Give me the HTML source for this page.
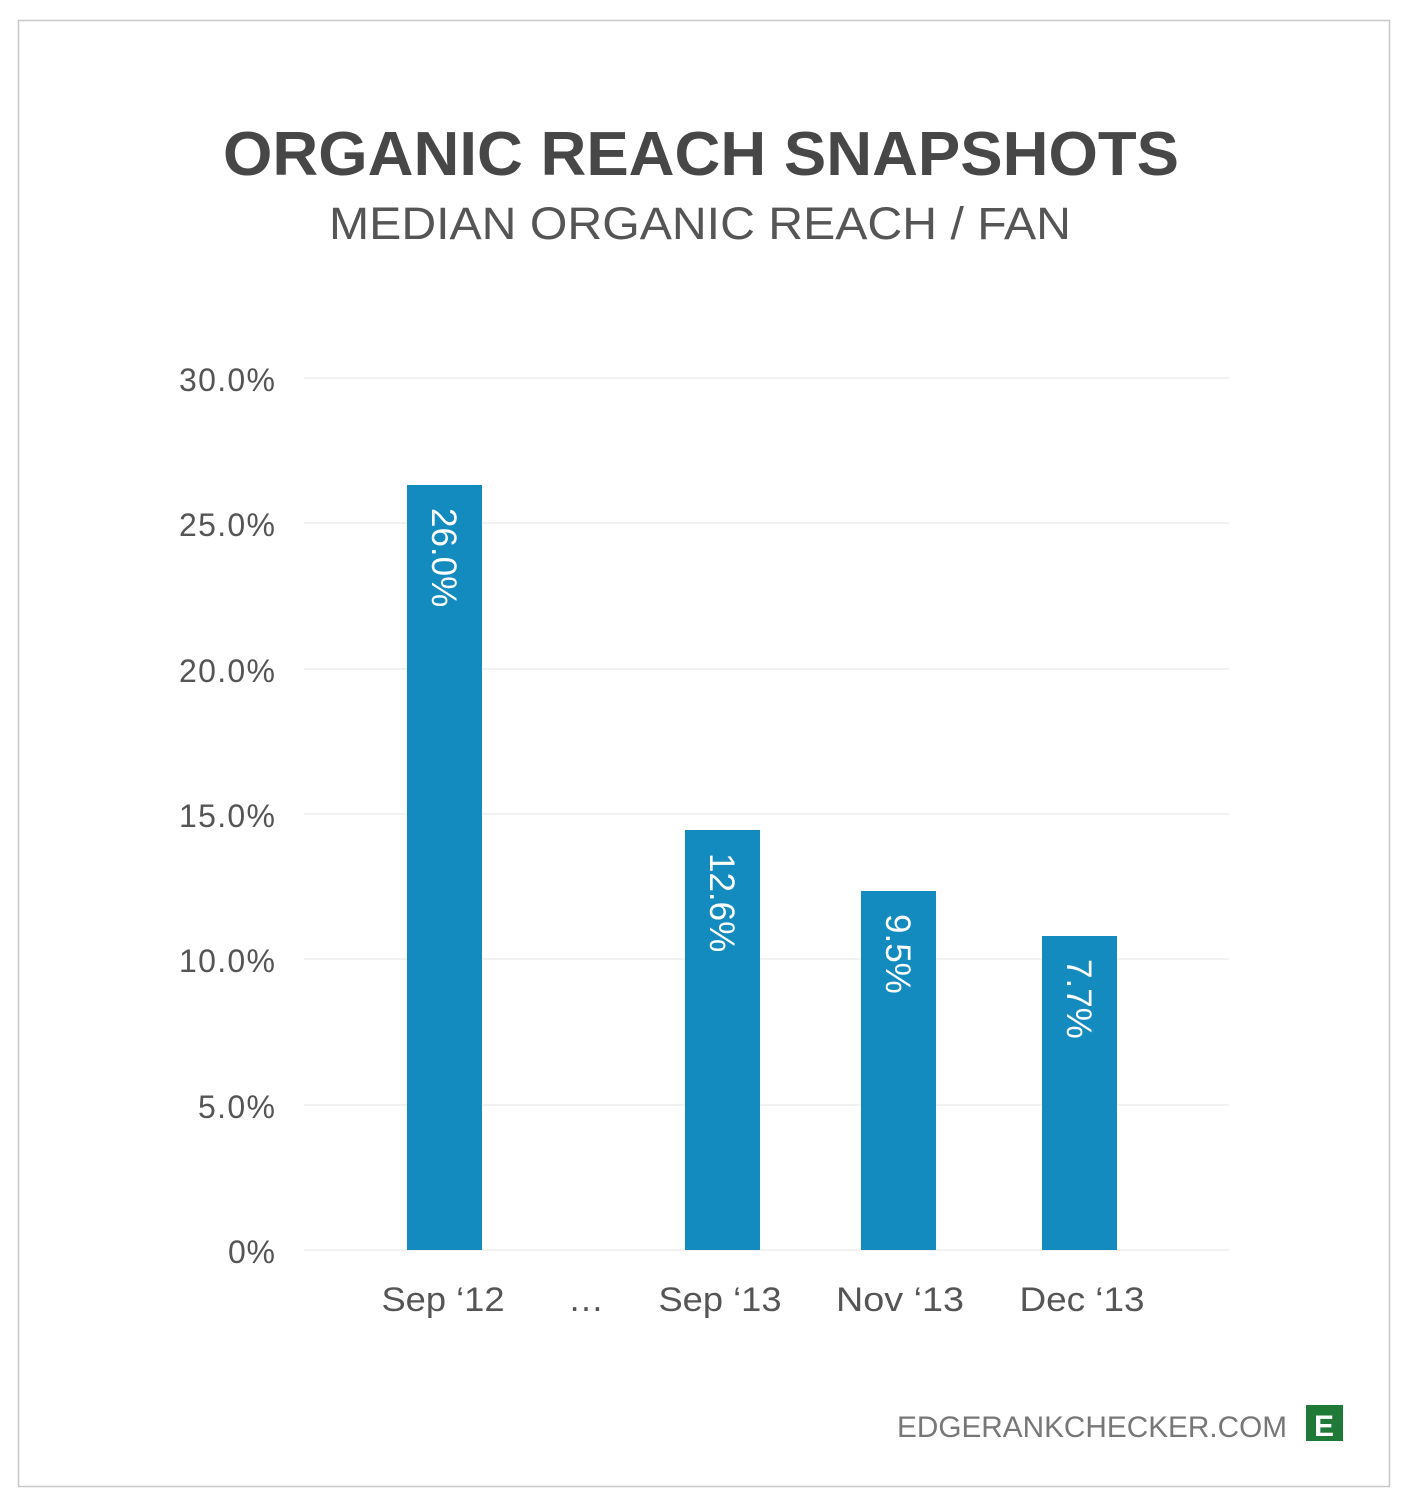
<!DOCTYPE html>
<html><head><style>body{margin:0;background:#fff}</style></head><body>
<svg width="1407" height="1507" xmlns="http://www.w3.org/2000/svg" font-family="Liberation Sans, sans-serif">
<rect x="0" y="0" width="1407" height="1507" fill="#fff"/>
<rect x="18.5" y="20.5" width="1371" height="1466" fill="none" stroke="#c8c8c8" stroke-width="1.5"/>
<text x="701" y="175" text-anchor="middle" font-size="62" font-weight="bold" fill="#474747" textLength="956" lengthAdjust="spacingAndGlyphs">ORGANIC REACH SNAPSHOTS</text>
<text x="700" y="239" text-anchor="middle" font-size="45" fill="#555" textLength="742" lengthAdjust="spacingAndGlyphs">MEDIAN ORGANIC REACH / FAN</text>
<g stroke="#e6e6e6" stroke-width="1">
<line x1="304" x2="1229" y1="378" y2="378"/><line x1="304" x2="1229" y1="523" y2="523"/>
<line x1="304" x2="1229" y1="669" y2="669"/><line x1="304" x2="1229" y1="814" y2="814"/>
<line x1="304" x2="1229" y1="959" y2="959"/><line x1="304" x2="1229" y1="1105" y2="1105"/>
<line x1="304" x2="1229" y1="1250" y2="1250"/>
</g>
<g font-size="32" fill="#555" text-anchor="end" lengthAdjust="spacingAndGlyphs">
<text x="275" y="391" textLength="96">30.0%</text><text x="275" y="536" textLength="96">25.0%</text><text x="275" y="682" textLength="96">20.0%</text>
<text x="275" y="827" textLength="96">15.0%</text><text x="275" y="972" textLength="96">10.0%</text><text x="275" y="1118" textLength="77">5.0%</text>
<text x="275" y="1263" textLength="47">0%</text>
</g>
<g fill="#138bbf">
<rect x="407" y="485" width="75" height="765"/><rect x="685" y="830" width="75" height="420"/>
<rect x="861" y="891" width="75" height="359"/><rect x="1042" y="936" width="75" height="314"/>
</g>
<g font-size="35" fill="#fff">
<text transform="translate(432,508) rotate(90)">26.0%</text>
<text transform="translate(710,853) rotate(90)">12.6%</text>
<text transform="translate(886,914) rotate(90)">9.5%</text>
<text transform="translate(1067,959) rotate(90)">7.7%</text>
</g>
<g font-size="34" fill="#555" text-anchor="middle">
<text x="443" y="1311" textLength="123" lengthAdjust="spacingAndGlyphs">Sep ‘12</text><text x="586" y="1311" font-size="36">…</text>
<text x="720" y="1311" textLength="123" lengthAdjust="spacingAndGlyphs">Sep ‘13</text><text x="900" y="1311" textLength="128" lengthAdjust="spacingAndGlyphs">Nov ‘13</text>
<text x="1082" y="1311" textLength="125" lengthAdjust="spacingAndGlyphs">Dec ‘13</text>
</g>
<text x="1287" y="1437" text-anchor="end" font-size="30" fill="#777" textLength="390" lengthAdjust="spacingAndGlyphs">EDGERANKCHECKER.COM</text>
<rect x="1306" y="1405" width="37" height="36" fill="#1e7a36"/>
<text x="1324" y="1436" text-anchor="middle" font-size="30" font-weight="bold" fill="#fff">E</text>
</svg>
</body></html>
